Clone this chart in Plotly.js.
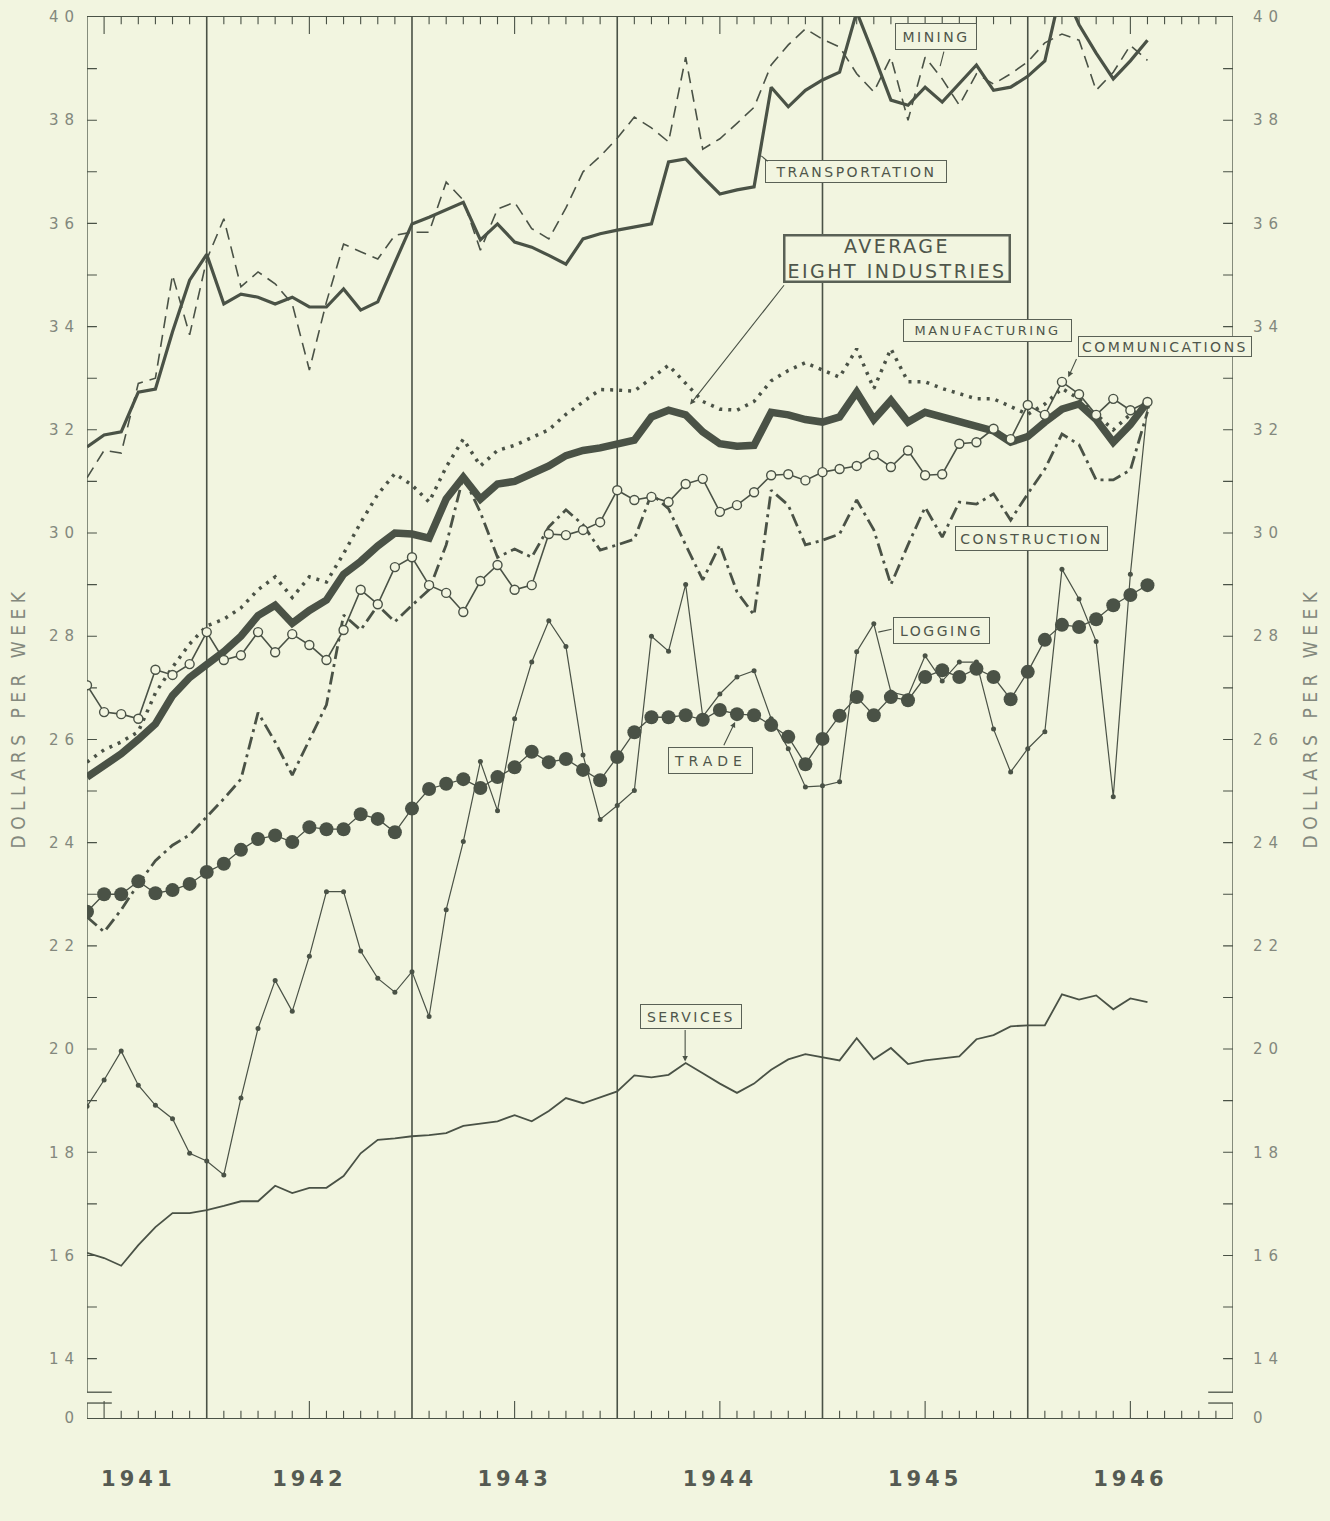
<!DOCTYPE html>
<html><head><meta charset="utf-8">
<script src="https://cdn.plot.ly/plotly-3.0.1.min.js"></script>
<style>html,body{margin:0;padding:0;background:#f2f5e0;}</style>
</head><body>
<div id="chart" style="width:1330px;height:1521px;"></div>
<script>
// ---- data: average weekly earnings, dollars per week, monthly June 1941 - Aug 1946 ----
const startYear = 1941, startMonth = 6;           // first observation: June 1941
const yearLabels = ['1941','1942','1943','1944','1945','1946'];
const yTickValues = [14,16,18,20,22,24,26,28,30,32,34,36,38,40];

const transportation = [
31.67,31.9,31.96,32.73,32.79,33.9,34.9,35.4,34.44,34.63,
34.57,34.44,34.57,34.38,34.38,34.73,34.32,34.48,35.24,35.99,
36.12,36.27,36.41,35.68,35.99,35.64,35.54,35.38,35.21,35.7,
35.8,35.87,35.93,35.99,37.19,37.25,36.9,36.57,36.65,36.71,
38.64,38.26,38.58,38.78,38.93,40.1,39.26,38.39,38.29,38.64,
38.35,38.7,39.07,38.58,38.64,38.85,39.15,40.6,39.85,39.3,
38.8,39.15,39.55];
const mining = [
31.07,31.6,31.55,32.9,33.0,35.0,33.84,35.3,36.09,34.77,
35.06,34.83,34.44,33.16,34.48,35.6,35.45,35.31,35.77,35.83,
35.83,36.8,36.45,35.48,36.28,36.41,35.9,35.7,36.3,37.0,
37.3,37.65,38.06,37.85,37.58,39.22,37.44,37.64,37.94,38.25,
39.07,39.46,39.77,39.57,39.42,38.9,38.55,39.22,38.0,39.22,
38.8,38.29,38.9,38.7,38.9,39.13,39.5,39.67,39.55,38.58,
38.93,39.45,39.16];
const averageEight = [
25.27,25.5,25.72,26.0,26.3,26.85,27.2,27.45,27.7,28.0,
28.4,28.6,28.25,28.5,28.7,29.2,29.45,29.75,30.0,29.98,
29.9,30.66,31.08,30.66,30.95,31.0,31.14,31.3,31.5,31.6,
31.65,31.71,31.8,32.25,32.38,32.29,31.96,31.73,31.68,31.7,
32.34,32.29,32.2,32.15,32.25,32.73,32.2,32.57,32.15,32.34,
32.25,32.15,32.05,31.98,31.76,31.87,32.15,32.4,32.5,32.2,
31.76,32.1,32.54];
const manufacturing = [
25.56,25.8,25.95,26.15,26.9,27.4,27.85,28.2,28.33,28.55,
28.9,29.15,28.75,29.15,29.05,29.6,30.2,30.75,31.15,30.93,
30.6,31.28,31.82,31.3,31.6,31.7,31.85,32.0,32.3,32.54,
32.78,32.77,32.75,33.0,33.25,32.9,32.55,32.4,32.38,32.55,
32.95,33.15,33.3,33.16,33.02,33.57,32.8,33.57,32.93,32.93,
32.8,32.7,32.6,32.6,32.45,32.3,32.5,32.8,32.6,32.3,
32.0,32.3,32.5];
const communications = [
27.05,26.53,26.49,26.4,27.35,27.25,27.46,28.08,27.54,27.63,
28.08,27.69,28.04,27.83,27.54,28.12,28.9,28.62,29.34,29.53,
28.99,28.84,28.47,29.07,29.38,28.9,28.99,29.98,29.96,30.06,
30.21,30.83,30.64,30.7,30.6,30.95,31.05,30.41,30.54,30.79,
31.12,31.14,31.02,31.18,31.24,31.3,31.51,31.28,31.6,31.12,
31.14,31.73,31.76,32.02,31.82,32.48,32.29,32.93,32.69,32.29,
32.6,32.38,32.54];
const construction = [
22.56,22.27,22.7,23.2,23.65,23.95,24.15,24.5,24.85,25.23,
26.52,25.95,25.31,25.99,26.67,28.41,28.12,28.6,28.28,28.6,
28.9,29.77,31.1,30.4,29.53,29.69,29.53,30.12,30.45,30.16,
29.67,29.77,29.88,30.76,30.47,29.77,29.09,29.77,28.86,28.41,
30.83,30.54,29.77,29.86,29.98,30.64,30.06,29.0,29.77,30.5,
29.92,30.6,30.56,30.76,30.25,30.76,31.24,31.92,31.71,31.03,
31.03,31.22,32.35];
const trade = [
22.66,23.0,23.0,23.25,23.02,23.08,23.2,23.43,23.59,23.86,
24.07,24.14,24.01,24.3,24.26,24.26,24.55,24.46,24.2,24.66,
25.04,25.14,25.23,25.06,25.27,25.46,25.76,25.56,25.62,25.41,
25.21,25.66,26.14,26.43,26.43,26.47,26.38,26.57,26.49,26.47,
26.28,26.05,25.52,26.01,26.46,26.82,26.47,26.82,26.76,27.21,
27.34,27.21,27.37,27.21,26.78,27.31,27.93,28.22,28.18,28.33,
28.6,28.8,28.99];
const logging = [
18.89,19.4,19.96,19.3,18.91,18.65,17.98,17.83,17.56,19.05,
20.4,21.33,20.73,21.8,23.05,23.05,21.9,21.37,21.1,21.5,
20.63,22.7,24.02,25.57,24.62,26.4,27.5,28.3,27.8,25.7,
24.45,24.72,25.01,28.0,27.71,29.0,26.44,26.88,27.21,27.33,
26.4,25.82,25.08,25.1,25.18,27.7,28.24,26.92,26.84,27.62,
27.13,27.5,27.5,26.2,25.37,25.82,26.15,29.3,28.72,27.9,
24.89,29.2,32.45];
const services = [
16.05,15.95,15.8,16.2,16.55,16.82,16.82,16.88,16.96,17.05,
17.05,17.35,17.21,17.31,17.31,17.54,17.98,18.24,18.27,18.31,
18.33,18.37,18.51,18.55,18.6,18.72,18.6,18.8,19.05,18.95,
19.07,19.18,19.49,19.45,19.5,19.73,19.53,19.33,19.15,19.33,
19.6,19.8,19.9,19.84,19.78,20.21,19.8,20.02,19.71,19.78,
19.82,19.86,20.19,20.27,20.44,20.46,20.46,21.06,20.96,21.04,
20.77,20.98,20.91];

// ---- axis helpers (month index 0 = June 1941) ----
const nMonths = transportation.length;
const months = [], monthNames = [];
for (let i = 0; i < nMonths; i++) {
  months.push(i);
  const m = (startMonth - 1 + i), y = startYear + Math.floor(m / 12);
  monthNames.push(y + '-' + String(m % 12 + 1).padStart(2, '0'));
}
const xEnd = 12 * yearLabels.length - (startMonth - 1);   // Jan 1947
const yearStarts = [], yearMid = [];
for (let k = 0; k < yearLabels.length; k++) {
  const s = 12 * k - (startMonth - 1);
  if (k > 0) yearStarts.push(s);
  yearMid.push(k === 0 ? 3.0 : s + 6);
}
const zeroPos = 12.85;         // broken axis: position standing for 0
const breakTop = 13.35, breakLow = 13.14;

const BG = '#f2f5e0', INK = '#4a5246', LABEL = '#83887d';

function tr(name, y, line, extra) {
  return Object.assign({type: 'scatter', mode: 'lines', name: name, x: months, y: y,
    customdata: monthNames, hovertemplate: '%{customdata}: %{y}<extra>' + name + '</extra>',
    line: Object.assign({color: INK}, line), showlegend: false}, extra || {});
}
const data = [
  tr('Services', services, {width: 1.8}),
  tr('Logging', logging, {width: 1.2}, {mode: 'lines+markers', marker: {size: 5, color: INK}}),
  tr('Trade', trade, {width: 1.3}, {mode: 'lines+markers', marker: {size: 14, color: INK}}),
  tr('Construction', construction, {width: 2.8, dash: '13px,5px,3px,5px'}),
  tr('Manufacturing', manufacturing, {width: 3.5, dash: '3px,6px'}),
  tr('Average eight industries', averageEight, {width: 7.5}),
  tr('Communications', communications, {width: 1.6}, {mode: 'lines+markers',
     marker: {size: 9, color: BG, line: {color: INK, width: 1.4}}}),
  tr('Mining', mining, {width: 1.6, dash: '12px,7px'}),
  tr('Transportation', transportation, {width: 3.2}),
  Object.assign(tr('axis2', services, {width: 0}), {yaxis: 'y2', opacity: 0, hoverinfo: 'skip', hovertemplate: null})
];

// ---- frame, ticks, year lines (drawn as shapes) ----
const shapes = [];
const ln = (x0, y0, x1, y1, w) => shapes.push({type: 'line', xref: 'x', yref: 'y', x0, y0, x1, y1,
  line: {color: INK, width: w || 1.3}, layer: 'below'});
yearStarts.forEach(s => ln(s, zeroPos, s, 40, 1.6));
const brk = 1.45;
// left axis with break
ln(0, breakTop, 0, 40); ln(0, breakTop, brk, breakTop);
ln(0, zeroPos, 0, breakLow); ln(0, breakLow, brk, breakLow);
// right axis with break
ln(xEnd, breakTop, xEnd, 40); ln(xEnd - brk, breakTop, xEnd, breakTop);
ln(xEnd, zeroPos, xEnd, breakLow); ln(xEnd - brk, breakLow, xEnd, breakLow);
let p = '';
const yTickLen = 0.58;
for (let v = 14; v < 40; v++) {
  p += `M0,${v}L${yTickLen},${v}M${xEnd - yTickLen},${v}L${xEnd},${v}`;
}
for (let i = 1; i < xEnd; i++) {
  if (yearStarts.indexOf(i) >= 0) continue;
  const july = ((i + startMonth - 1) % 12) === 6;
  const l = july ? 0.33 : 0.14;
  p += `M${i},${zeroPos}L${i},${zeroPos + l}M${i},40L${i},${40 - l}`;
}
shapes.push({type: 'path', xref: 'x', yref: 'y', path: p, line: {color: INK, width: 1.1}, layer: 'below'});

// ---- labels ----
const lf = (size) => ({family: 'DejaVu Sans', size: size || 14, color: '#4f564b'});
function box(text, x, y, w, h, extra) {
  return Object.assign({text: text, x: x, y: y, xref: 'x', yref: 'y', xanchor: 'center', yanchor: 'middle',
    showarrow: false, width: w, height: h, bgcolor: BG, bordercolor: '#5a6156', borderwidth: 1, borderpad: 1,
    font: lf(14)}, extra || {});
}
function arrow(tx, ty, fx, fy, head) {
  return {text: '', x: tx, y: ty, ax: fx, ay: fy, xref: 'x', yref: 'y', axref: 'x', ayref: 'y',
    showarrow: true, arrowhead: head === undefined ? 2 : head, arrowsize: 1, arrowwidth: 1.1, arrowcolor: INK};
}
const annotations = [
  box('MINING', 49.65, 39.62, 78, 23),
  arrow(49.88, 39.05, 50.12, 39.36, 0),
  box('TRANSPORTATION', 44.97, 37.01, 178, 19),
  arrow(39.42, 37.31, 39.88, 37.18, 0),
  box('AVERAGE<br>EIGHT INDUSTRIES', 47.34, 35.32, 221, 42, {borderwidth: 2.5, font: lf(19)}),
  arrow(35.26, 32.49, 40.82, 34.83, 2),
  box('MANUFACTURING', 52.66, 33.92, 165, 19, {font: lf(13)}),
  box('COMMUNICATIONS', 63.04, 33.61, 170, 17),
  arrow(57.37, 33.02, 57.89, 33.40, 2),
  box('CONSTRUCTION', 55.23, 29.89, 149, 21),
  box('LOGGING', 49.97, 28.11, 93, 23),
  arrow(46.26, 28.08, 47.13, 28.14, 0),
  box('TRADE', 36.46, 25.60, 81, 23),
  arrow(37.89, 26.34, 37.19, 25.86, 2),
  box('SERVICES', 35.32, 20.64, 98, 21),
  arrow(34.97, 19.76, 34.97, 20.40, 2)
];

const yTickVals = [zeroPos].concat(yTickValues);
const yTickText = ['0'].concat(yTickValues.map(String));
const tickFont = {family: 'DejaVu Sans', size: 15, color: LABEL};
const titleFont = {family: 'DejaVu Sans Condensed', size: 19, color: LABEL};

const layout = {
  width: 1330, height: 1521,
  margin: {l: 87, r: 97, t: 17, b: 103},
  paper_bgcolor: BG, plot_bgcolor: BG,
  showlegend: false,
  xaxis: {range: [0, xEnd], showgrid: false, zeroline: false, showline: true, mirror: true,
    linecolor: INK, linewidth: 1.4, tickvals: yearMid, ticktext: yearLabels,
    ticks: 'outside', ticklen: 41, tickcolor: 'rgba(0,0,0,0)',
    tickfont: {family: 'DejaVu Sans', size: 21, color: '#555a52', weight: 'bold'}, fixedrange: true},
  yaxis: {range: [zeroPos, 40], showgrid: false, zeroline: false, showline: false,
    tickvals: yTickVals, ticktext: yTickText, ticks: 'outside', ticklen: 3, tickcolor: 'rgba(0,0,0,0)',
    tickfont: tickFont, title: {text: 'DOLLARS PER WEEK', font: titleFont, standoff: 30}},
  yaxis2: {range: [zeroPos, 40], overlaying: 'y', side: 'right', showgrid: false, zeroline: false, showline: false,
    tickvals: yTickVals, ticktext: yTickText, ticks: 'outside', ticklen: 16, tickcolor: 'rgba(0,0,0,0)',
    tickfont: tickFont, title: {text: 'DOLLARS PER WEEK', font: titleFont, standoff: 32}},
  shapes: shapes,
  annotations: annotations
};

Plotly.newPlot('chart', data, layout, {staticPlot: true}).then(gd => {
  gd.querySelectorAll('.ytick text, .y2tick text').forEach(t => t.style.letterSpacing = '6px');
  gd.querySelectorAll('.xtick text').forEach(t => t.style.letterSpacing = '4px');
  gd.querySelectorAll('.g-ytitle text, .g-y2title text').forEach(t => t.style.letterSpacing = '5.5px');
  gd.querySelectorAll('.annotation-text').forEach(t => t.style.letterSpacing = '2.5px');
  const trade = Array.from(gd.querySelectorAll('.annotation-text')).find(t => t.textContent === 'TRADE');
  if (trade) trade.style.letterSpacing = '5px';
});
</script>
</body></html>
